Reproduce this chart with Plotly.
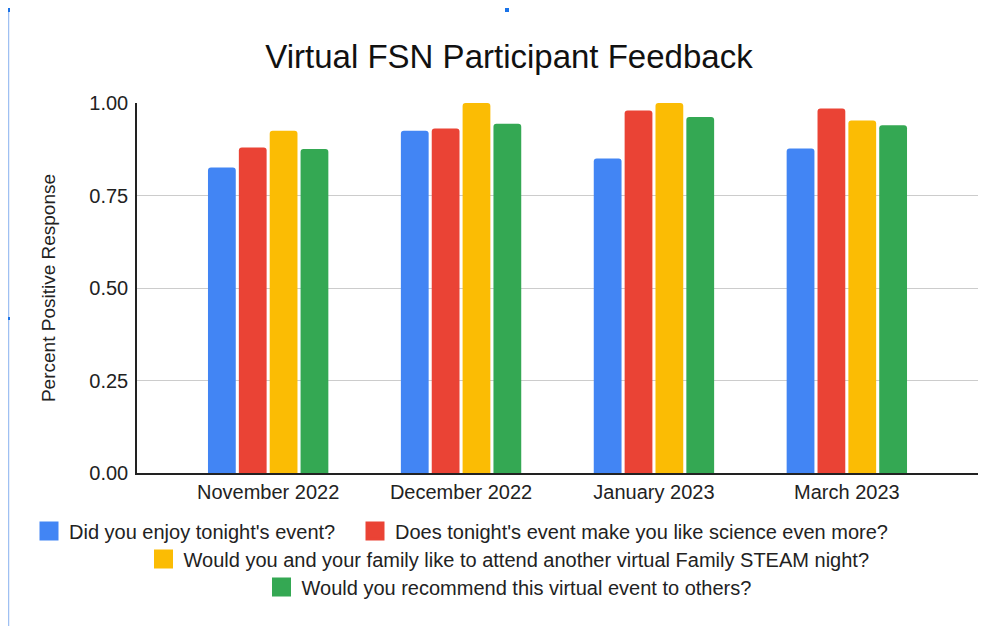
import plotly.graph_objects as go

categories = ["November 2022", "December 2022", "January 2023", "March 2023"]
series_names = [
    "Did you enjoy tonight's event?",
    "Does tonight's event make you like science even more?",
    "Would you and your family like to attend another virtual Family STEAM night?",
    "Would you recommend this virtual event to others?",
]
enjoy = [0.826, 0.925, 0.850, 0.877]
science = [0.880, 0.931, 0.980, 0.985]
attend = [0.925, 1.000, 1.000, 0.953]
recommend = [0.876, 0.944, 0.962, 0.940]
series_values = [enjoy, science, attend, recommend]
colors = ["#4285F4", "#EA4335", "#FBBC04", "#34A853"]
legend_ids = ["legend", "legend4", "legend2", "legend3"]
y_ticks = [0, 0.25, 0.5, 0.75, 1.0]
y_tick_labels = ["0.00", "0.25", "0.50", "0.75", "1.00"]

FONT = "Liberation Sans, Arial, sans-serif"

fig = go.Figure()
for name, vals, col in zip(series_names, series_values, colors):
    fig.add_trace(go.Bar(x=categories, y=vals, name=name, marker_color=col,
                         marker_line_width=0, showlegend=False))
for name, col, lg in zip(series_names, colors, legend_ids):
    fig.add_trace(go.Scatter(x=[categories[0]], y=[None], mode="markers", name=name,
                             marker=dict(symbol="square", size=16, color=col,
                                         line=dict(color=col, width=3)),
                             legend=lg, showlegend=True, hoverinfo="skip"))

# screen geometry (window 1001x626); page body has an 8px margin
O = 8
SW, SH = 1001, 626
W, H = SW - O, SH - O
PL, PR, PT, PB = 137, 978, 103, 473   # plot area in screen px
L, T = PL - O, PT - O
R = W - (PR - O)
B = H - (PB - O)
pw = PR - PL
ph = PB - PT

def px(xs):
    return (xs - PL) / pw

def py(ys):
    return (PB - ys) / ph

legend_common = dict(orientation="h", yanchor="middle",
                     font=dict(family=FONT, size=20, color="#222222"),
                     bgcolor="rgba(0,0,0,0)", itemsizing="trace", itemclick=False)

fig.update_layout(
    width=W, height=H,
    margin=dict(l=L, r=R, t=T, b=B),
    paper_bgcolor="white", plot_bgcolor="white",
    font=dict(family=FONT, color="#222222"),
    title=dict(text="Virtual FSN Participant Feedback", x=(509 - O) / W, xref="container",
               xanchor="center", y=1 - (56 - O) / H, yref="container", yanchor="middle",
               font=dict(family=FONT, size=33, color="#111111")),
    barmode="group", bargap=0.36, bargroupgap=0.1, barcornerradius=3,
    legend=dict(x=px(29), xanchor="left", y=py(531), **legend_common),
    legend4=dict(x=px(355), xanchor="left", y=py(531), **legend_common),
    legend2=dict(x=px(509), xanchor="center", y=py(559), **legend_common),
    legend3=dict(x=px(509), xanchor="center", y=py(587), **legend_common),
    xaxis=dict(range=[-0.68, 3.68], showgrid=False, showline=True, linecolor="#222222",
               linewidth=1.5, ticks="", tickfont=dict(family=FONT, size=20, color="#222222"),
               fixedrange=True),
    yaxis=dict(range=[0, 1.0], tickvals=y_ticks, ticktext=y_tick_labels,
               showgrid=True, gridcolor="#cccccc", gridwidth=1, showline=True,
               linecolor="#222222", linewidth=1.5, zeroline=False, ticks="",
               ticklabelstandoff=3,
               tickfont=dict(family=FONT, size=20, color="#222222"),
               title=dict(text="Percent Positive Response", standoff=29,
                          font=dict(family=FONT, size=19, color="#222222")),
               fixedrange=True),
    shapes=[
        dict(type="line", xref="paper", yref="paper", x0=px(8.5), x1=px(8.5),
             y0=py(10), y1=py(626), line=dict(color="#9fc0f2", width=1.5)),
        dict(type="rect", xref="paper", yref="paper", x0=px(6), x1=px(10),
             y0=py(8), y1=py(12), fillcolor="#1a73e8", line=dict(width=0)),
        dict(type="rect", xref="paper", yref="paper", x0=px(505), x1=px(509),
             y0=py(8), y1=py(12), fillcolor="#1a73e8", line=dict(width=0)),
        dict(type="rect", xref="paper", yref="paper", x0=px(7), x1=px(10),
             y0=py(317), y1=py(320), fillcolor="#1a73e8", line=dict(width=0)),
    ],
)

fig.write_html("out.html")
